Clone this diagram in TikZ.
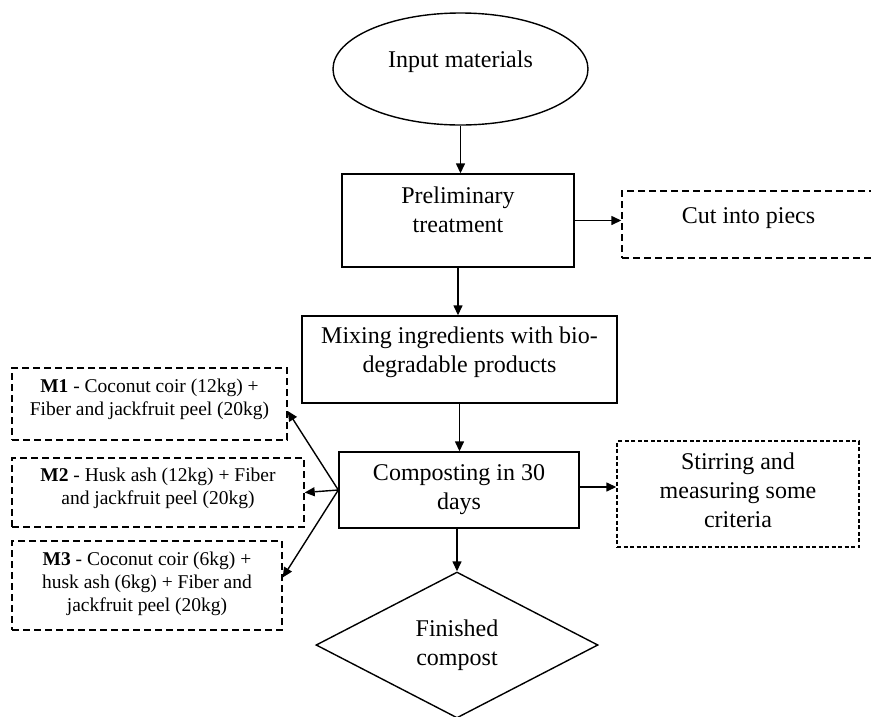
\documentclass[tikz,border=0pt]{standalone}
\usepackage{fontspec}
\setmainfont{Liberation Serif}
\usetikzlibrary{shapes.geometric,arrows.meta}
\newcommand{\lift}[2]{\raisebox{0pt}[\height][\dimexpr\depth+#1\relax]{\begin{tabular}{@{}c@{}}#2\end{tabular}}}
\begin{document}
\begin{tikzpicture}[x=1pt,y=-1pt,
  base/.style={inner sep=0pt, line width=1.4pt, font=\fontsize{24}{29}\selectfont},
  solidbox/.style={base, draw, rectangle},
  dashbox/.style={base, draw, rectangle, dash pattern=on 7pt off 4pt},
  finedash/.style={base, draw, rectangle, dash pattern=on 4pt off 2.5pt},
  smallbox/.style={dashbox, font=\fontsize{19.5}{23}\selectfont},
  arr/.style={-{Triangle[length=10pt,width=9pt]}, line width=1.4pt},
]
\useasboundingbox[fill=white] (0,0) rectangle (871,716);

\node[solidbox, ellipse, minimum width=255pt, minimum height=112pt] (in) at (460.5,69) {\lift{14pt}{Input materials}};
\node[solidbox, minimum width=232pt, minimum height=93pt] (prelim) at (458,220.5) {\lift{16pt}{Preliminary\\treatment}};
\node[dashbox, minimum width=253pt, minimum height=67pt] (cut) at (748.5,224.5) {\lift{14pt}{Cut into piecs}};
\node[solidbox, minimum width=315pt, minimum height=87pt] (mix) at (459.5,359.5) {\lift{14pt}{Mixing ingredients with bio-\\degradable products}};
\node[solidbox, minimum width=240pt, minimum height=76pt] (comp) at (459,490) {\lift{2pt}{Composting in 30\\days}};
\node[finedash, minimum width=242pt, minimum height=106pt] (stir) at (738,494) {\lift{2pt}{Stirring and\\measuring some\\criteria}};
\node[solidbox, diamond, shape aspect=1.9, minimum width=282pt, minimum height=146pt] (fin) at (457,645) {\lift{0pt}{Finished\\compost}};

\node[smallbox, minimum width=275pt, minimum height=72pt] (m1) at (149.5,404) {\lift{10pt}{\textbf{M1} - Coconut coir (12kg) +\\Fiber and jackfruit peel (20kg)}};
\node[smallbox, minimum width=292pt, minimum height=69pt] (m2) at (158,492.5) {\lift{8pt}{\textbf{M2} - Husk ash (12kg) + Fiber\\and jackfruit peel (20kg)}};
\node[smallbox, minimum width=270pt, minimum height=89pt] (m3) at (147,585.5) {\lift{4pt}{\textbf{M3} - Coconut coir (6kg) +\\husk ash (6kg) + Fiber and\\jackfruit peel (20kg)}};

\draw[arr] (in.south) -- (in.south |- prelim.north);
\draw[arr] (prelim.east) -- (prelim.east -| cut.west);
\draw[arr] (prelim.south) -- (prelim.south |- mix.north);
\draw[arr] (mix.south) -- (mix.south |- comp.north);
\draw[arr] ([yshift=3pt]comp.east) -- ([yshift=3pt]comp.east -| stir.west);
\draw[arr] (comp.west) -- ([yshift=-7pt]m1.east);
\draw[arr] (comp.west) -- (m2.east);
\draw[arr] (comp.west) -- ([yshift=8pt]m3.east);
\draw[arr] (fin.north |- comp.south) -- (fin.north);
\end{tikzpicture}
\end{document}
